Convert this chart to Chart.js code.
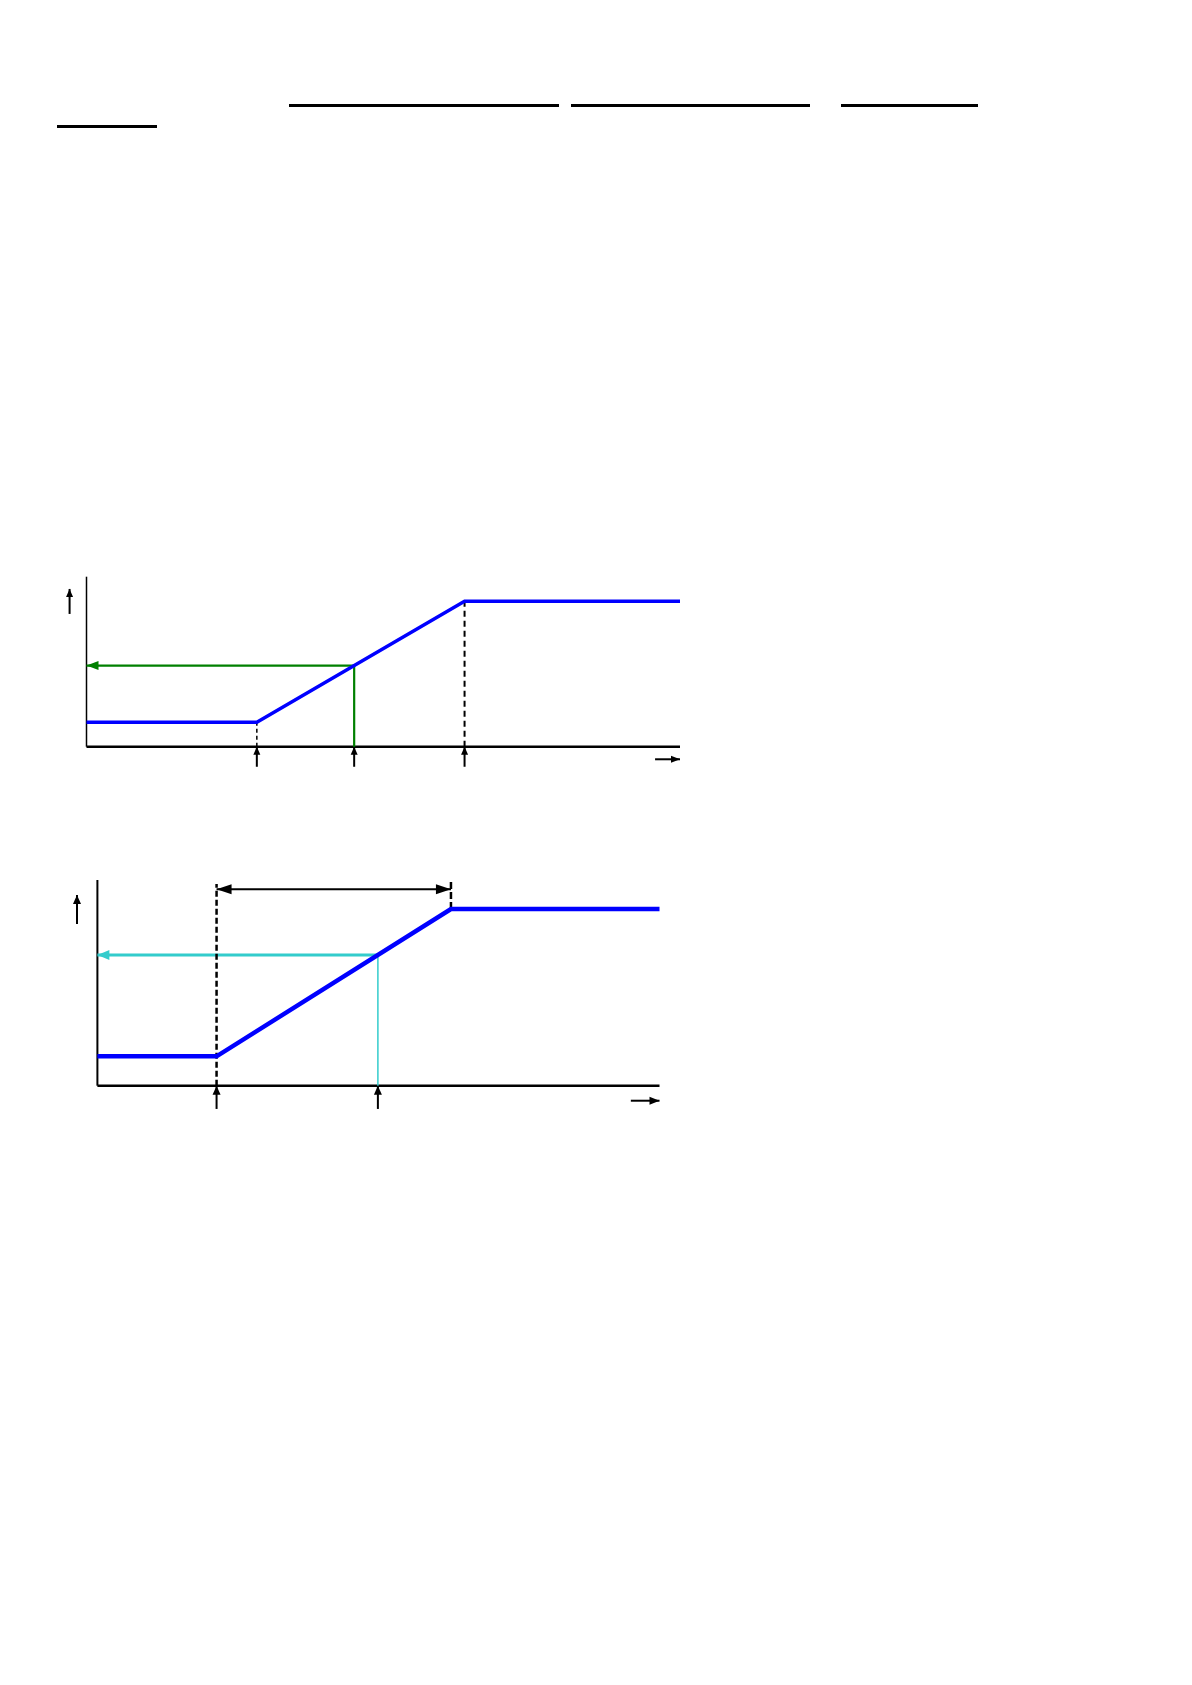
<!DOCTYPE html>
<html>
<head>
<meta charset="utf-8">
<script src="https://cdn.jsdelivr.net/npm/chart.js@4/dist/chart.umd.min.js"></script>
<style>
  html, body { margin:0; padding:0; background:#fff; }
  #page { position:relative; width:1192px; height:1685px; background:#fff; overflow:hidden; font-family:"Liberation Sans", Arial, sans-serif; }
  .ul { position:absolute; height:3px; background:#000; }
  canvas { position:absolute; }
</style>
</head>
<body>
<div id="page">
  <div class="ul" style="left:289px; top:104px; width:270px;"></div>
  <div class="ul" style="left:571px; top:104px; width:239px;"></div>
  <div class="ul" style="left:841px; top:104px; width:137px;"></div>
  <div class="ul" style="left:57px;  top:125px; width:100px;"></div>
  <canvas id="c1" width="650" height="220" style="left:50px; top:560px; width:650px; height:220px;"></canvas>
  <canvas id="c2" width="650" height="270" style="left:50px; top:860px; width:650px; height:270px;"></canvas>
</div>
<script>
// ---------- Chart 1 data (abstract units: axis origin = 0, axis ends = 100) ----------
const c1CurveX = [0, 28.7, 63.7, 100];
const c1CurveY = [14.4, 14.4, 85.5, 85.5];
const c1ProbeX = [45.1];
const c1ProbeY = [47.7];
const c1MarkX  = [28.7, 45.1, 63.7];     // small arrows under the x axis

// ---------- Chart 2 data ----------
const c2CurveX = [0, 21.2, 62.9, 100];
const c2CurveY = [14.3, 14.3, 85.9, 85.9];
const c2ProbeX = [49.9];
const c2ProbeY = [63.5];
const c2MarkX  = [21.2, 49.9];
const c2SpanX  = [21.2, 62.9];           // double-headed span arrow
const c2SpanY  = [95.5];

const arrowPlugin = {
  id: 'arrows',
  afterDatasetsDraw(chart) {
    const ctx = chart.ctx, xs = chart.scales.x, ys = chart.scales.y;
    chart.data.datasets.forEach(ds => {
      if (!ds.arrows) return;
      const pts = ds.data.map(p => [xs.getPixelForValue(p.x), ys.getPixelForValue(p.y)]);
      ds.arrows.forEach(a => {
        let tip, prev;
        if (a === 'end') { tip = pts[pts.length - 1]; prev = pts[pts.length - 2]; }
        else { tip = pts[0]; prev = pts[1]; }
        const ang = Math.atan2(tip[1] - prev[1], tip[0] - prev[0]);
        const L = ds.arrowLen || 10, W = (ds.arrowWidth || 7) / 2;
        const bx = tip[0] - L * Math.cos(ang), by = tip[1] - L * Math.sin(ang);
        ctx.save();
        ctx.fillStyle = ds.arrowColor || ds.borderColor;
        ctx.beginPath();
        ctx.moveTo(tip[0], tip[1]);
        ctx.lineTo(bx + W * Math.sin(ang), by - W * Math.cos(ang));
        ctx.lineTo(bx - W * Math.sin(ang), by + W * Math.cos(ang));
        ctx.closePath();
        ctx.fill();
        ctx.restore();
      });
    });
  }
};

function seg(points, opts) {
  return Object.assign({
    data: points,
    showLine: true,
    pointRadius: 0,
    pointHoverRadius: 0,
    borderColor: '#000',
    borderWidth: 2,
    fill: false,
    tension: 0,
    order: 5,
    borderCapStyle: 'butt'
  }, opts || {});
}

function makeChart(id, datasets, xr, yr) {
  return new Chart(document.getElementById(id), {
    type: 'scatter',
    data: { datasets },
    options: {
      responsive: false,
      animation: false,
      devicePixelRatio: 1,
      events: [],
      layout: { padding: 0 },
      plugins: { legend: { display: false }, tooltip: { enabled: false } },
      scales: {
        x: { type: 'linear', display: false, min: xr[0], max: xr[1] },
        y: { type: 'linear', display: false, min: yr[0], max: yr[1] }
      }
    },
    plugins: [arrowPlugin]
  });
}

// ---------- Chart 1 ----------
const ds1 = [];
ds1.push(seg(c1CurveX.map((x, i) => ({ x, y: c1CurveY[i] })), { borderColor: '#0000ff', borderWidth: 3.5, order: 0, borderJoinStyle: 'miter' }));
// axes
ds1.push(seg([{ x: 0, y: 0 }, { x: 0, y: 100 }], { borderWidth: 1.5 }));
ds1.push(seg([{ x: 0, y: 0 }, { x: 100, y: 0 }], { borderWidth: 2.5 }));
// axis direction arrows
ds1.push(seg([{ x: -2.85, y: 78.1 }, { x: -2.85, y: 92.8 }], { borderWidth: 2, arrows: ['end'], arrowLen: 8, arrowWidth: 7 }));
ds1.push(seg([{ x: 95.8, y: -7.4 }, { x: 100, y: -7.4 }], { borderWidth: 2, arrows: ['end'], arrowLen: 9, arrowWidth: 7 }));
// dashed drop lines
ds1.push(seg([{ x: c1CurveX[1], y: 0 }, { x: c1CurveX[1], y: c1CurveY[1] }], { borderWidth: 1.5, borderDash: [4, 3] }));
ds1.push(seg([{ x: c1CurveX[2], y: 0 }, { x: c1CurveX[2], y: c1CurveY[2] }], { borderWidth: 2, borderDash: [6, 4] }));
// green probe
ds1.push(seg([{ x: c1ProbeX[0], y: 0 }, { x: c1ProbeX[0], y: c1ProbeY[0] }, { x: 0, y: c1ProbeY[0] }],
  { borderColor: '#008000', borderWidth: 2.2, order: 2, arrows: ['end'], arrowLen: 12, arrowWidth: 9 }));
// small arrows under axis
c1MarkX.forEach(x => ds1.push(seg([{ x, y: -11.8 }, { x, y: 0 }], { borderWidth: 2, arrows: ['end'], arrowLen: 8, arrowWidth: 7 })));

makeChart('c1', ds1, [(50 - 86.5) / 5.935, (700 - 86.5) / 5.935], [(746.7 - 780) / 1.7, (746.7 - 560) / 1.7]);

// ---------- Chart 2 ----------
const ds2 = [];
ds2.push(seg(c2CurveX.map((x, i) => ({ x, y: c2CurveY[i] })), { borderColor: '#0000ff', borderWidth: 4.5, order: 0, borderJoinStyle: 'miter' }));
ds2.push(seg([{ x: 0, y: 0 }, { x: 0, y: 100 }], { borderWidth: 2 }));
ds2.push(seg([{ x: 0, y: 0 }, { x: 100, y: 0 }], { borderWidth: 2.5 }));
ds2.push(seg([{ x: -3.63, y: 78.6 }, { x: -3.63, y: 92.7 }], { borderWidth: 2, arrows: ['end'], arrowLen: 9, arrowWidth: 8 }));
ds2.push(seg([{ x: 94.9, y: -7.3 }, { x: 100, y: -7.3 }], { borderWidth: 2, arrows: ['end'], arrowLen: 10, arrowWidth: 8 }));
// dashed verticals
ds2.push(seg([{ x: c2SpanX[0], y: 0 }, { x: c2SpanX[0], y: 98.1 }], { borderWidth: 2.5, borderDash: [6, 3], order: 1 }));
ds2.push(seg([{ x: c2SpanX[1], y: c2CurveY[2] }, { x: c2SpanX[1], y: 100.5 }], { borderWidth: 2.5, borderDash: [7, 3] }));
// span double arrow
ds2.push(seg([{ x: c2SpanX[0], y: c2SpanY[0] }, { x: c2SpanX[1], y: c2SpanY[0] }], { borderWidth: 2, arrows: ['start', 'end'], arrowLen: 15, arrowWidth: 10 }));
// cyan probe
ds2.push(seg([{ x: c2ProbeX[0], y: 0 }, { x: c2ProbeX[0], y: c2ProbeY[0] }], { borderColor: '#33cccc', borderWidth: 1.5, order: 3 }));
ds2.push(seg([{ x: c2ProbeX[0], y: c2ProbeY[0] }, { x: 0, y: c2ProbeY[0] }], { borderColor: '#33cccc', borderWidth: 3, order: 3, arrows: ['end'], arrowLen: 12, arrowWidth: 10 }));
c2MarkX.forEach(x => ds2.push(seg([{ x, y: -11.3 }, { x, y: 0 }], { borderWidth: 2, arrows: ['end'], arrowLen: 9, arrowWidth: 8 })));

makeChart('c2', ds2, [(50 - 97.4) / 5.621, (700 - 97.4) / 5.621], [(1085.7 - 1130) / 2.057, (1085.7 - 860) / 2.057]);
</script>
</body>
</html>
